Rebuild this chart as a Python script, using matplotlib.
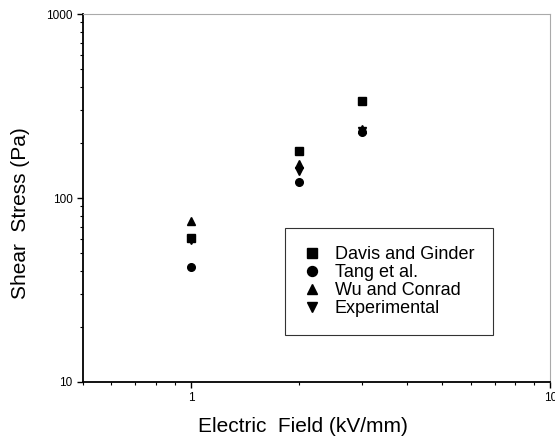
import numpy as np
import matplotlib.pyplot as plt
from matplotlib.ticker import LogLocator, NullFormatter

plt.rcParams['font.family'] = ['Liberation Sans', 'DejaVu Sans']

field = [1, 2, 3]
davis = [61, 180, 338]
tang = [42, 122, 228]
wu = [75, 154, 236]
experimental = [59, 141, 231]

series = [
    ("Davis and Ginder", davis, "s"),
    ("Tang et al.", tang, "o"),
    ("Wu and Conrad", wu, "^"),
    ("Experimental", experimental, "v"),
]

fig = plt.figure(figsize=(5.55, 4.46), dpi=100)
ax = fig.add_axes([0.1495, 0.1435, 0.842, 0.825])

for name, vals, m in series:
    ax.plot(field, vals, linestyle="none", marker=m, color="black",
            markersize=5.5, label=name)

ax.set_xscale("log")
ax.set_yscale("log")
ax.set_xlim(0.5, 10)
ax.set_ylim(10, 1000)

ax.set_xticks([1, 10])
ax.set_xticklabels(["1", "10"])
ax.set_yticks([10, 100, 1000])
ax.set_yticklabels(["10", "100", "1000"])
ax.xaxis.set_minor_locator(LogLocator(base=10, subs=np.arange(2, 10)))
ax.yaxis.set_minor_locator(LogLocator(base=10, subs=np.arange(2, 10)))
ax.xaxis.set_minor_formatter(NullFormatter())
ax.yaxis.set_minor_formatter(NullFormatter())
ax.tick_params(which="major", direction="out", length=4, width=1, labelsize=8.5)
ax.tick_params(which="minor", direction="out", length=2.5, width=0.8)

for s in ["left", "bottom"]:
    ax.spines[s].set_linewidth(1.3)
for s in ["top", "right"]:
    ax.spines[s].set_color("#aaaaaa")
    ax.spines[s].set_linestyle((0, (2, 1)))
    ax.spines[s].set_linewidth(0.8)

ax.set_xlabel("Electric  Field (kV/mm)", fontsize=15)
ax.set_ylabel("Shear  Stress (Pa)", fontsize=15)
ax.xaxis.set_label_coords(0.47, -0.095)
ax.yaxis.set_label_coords(-0.113, 0.46)

leg = ax.legend(loc="upper left", bbox_to_anchor=(0.433, 0.418), fontsize=13,
                frameon=True, fancybox=False, edgecolor="black",
                handletextpad=0.75, borderpad=1.0, labelspacing=0.05,
                handlelength=1.0, markerscale=1.3, borderaxespad=0)
leg.get_frame().set_linewidth(0.8)

fig.savefig("out.png", dpi=100)
